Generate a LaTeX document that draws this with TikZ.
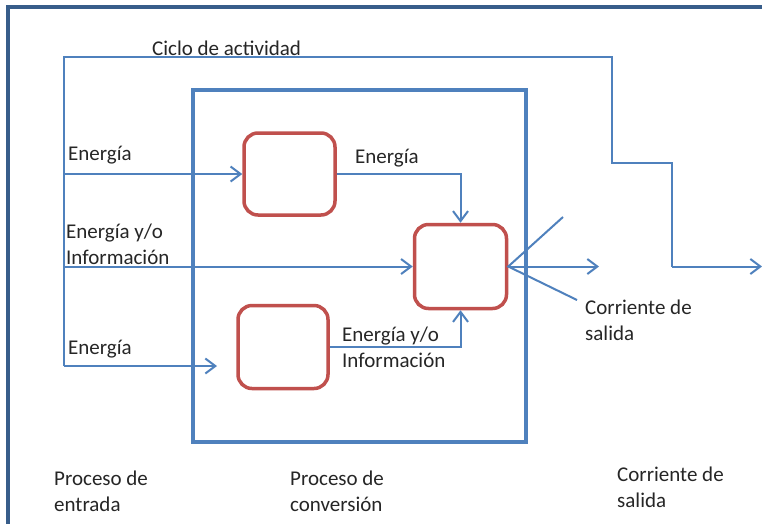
\documentclass[tikz,border=0pt]{standalone}
\usepackage{fontspec}
\setmainfont{Carlito}
\usetikzlibrary{arrows.meta}
\definecolor{ablue}{HTML}{4F81BD}
\definecolor{ared}{HTML}{C0504D}
\definecolor{aframe}{HTML}{385D8A}
\begin{document}
\begin{tikzpicture}[x=1pt,y=-1pt,
  lbl/.style={anchor=base west,inner sep=0pt,font=\fontsize{21}{25.5}\selectfont,text=black!85,align=left},
  proc/.style={draw=ared,line width=3.5pt,rounded corners=14pt,inner sep=0pt},
  flow/.style={draw=ablue,line width=2pt},
  arr/.style={flow,-{Straight Barb[length=10pt,width=15pt]}}]
\useasboundingbox (0,0) rectangle (762,523);
\fill[white] (0,0) rectangle (762,523);
% outer frame
\draw[aframe,line width=4pt] (8,530) -- (8,7) -- (770,7);
% conversion box
\node[draw=ablue,line width=4pt,minimum width=333pt,minimum height=352pt,inner sep=0pt] (conv) at (359.5,266) {};
% process boxes
\node[proc,minimum width=91pt,minimum height=82pt] (b1) at (289.5,174) {};
\node[proc,minimum width=92pt,minimum height=84pt] (b2) at (460.5,266.5) {};
\node[proc,minimum width=90pt,minimum height=83pt] (b3) at (283,347) {};
% coordinates
\coordinate (ltop) at (64,57);
\coordinate (lbot) at (64,366);
\coordinate (l1) at (64,174);
\coordinate (l2) at (64,266.5);
\coordinate (a3) at (217,366);
\coordinate (c1) at (612,57);
\coordinate (c2) at (612,163);
\coordinate (c3) at (672,163);
\coordinate (c4) at (672,266.5);
\coordinate (cend) at (762,266.5);
\coordinate (out) at (599,266.5);
\coordinate (fu) at (563,217);
\coordinate (fd) at (577,300);
% activity cycle
\draw[flow] (lbot) -- (ltop) -- (c1) -- (c2) -- (c3) -- (c4);
\draw[arr] (c4) -- (cend);
% inputs
\draw[arr] (l1) -- (b1.west);
\draw[arr] (l2) -- (b2.west);
\draw[arr] (lbot) -- (a3);
% internal flows
\draw[arr] (b1.east) -| (b2.north);
\draw[arr] (b3.east) -| (b2.south);
% output
\draw[arr] (b2.east) -- (out);
\draw[flow] (fu) -- (b2.east) -- (fd);
% labels (base = baseline of last line)
\node[lbl] (tcic) at (152,55) {Ciclo de actividad};
\node[lbl] (te1) at (68,160) {Energía};
\node[lbl] (te2) at (66,264) {Energía y/o\\Información};
\node[lbl] (te3) at (68,354) {Energía};
\node[lbl] (te4) at (355,163) {Energía};
\node[lbl] (te5) at (342,367) {Energía y/o\\Información};
\node[lbl] (tcs) at (585,340) {Corriente de\\salida};
\node[lbl] (tpe) at (54,511) {Proceso de\\entrada};
\node[lbl] (tpc) at (290,511) {Proceso de\\conversión};
\node[lbl] (tcs2) at (617,507) {Corriente de\\salida};
\end{tikzpicture}
\end{document}
